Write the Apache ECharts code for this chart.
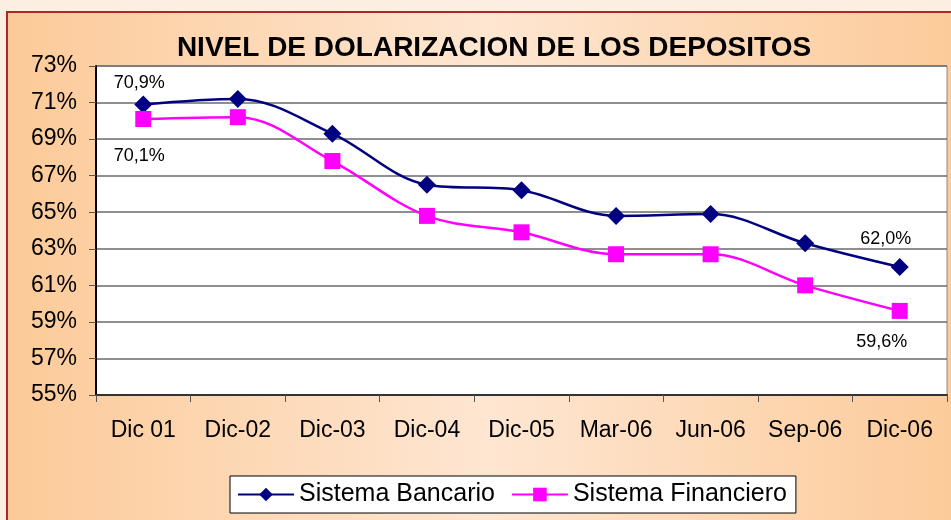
<!doctype html>
<html lang="es">
<head>
    <meta charset="utf-8">
    <title>Nivel de dolarizacion de los depositos</title>
    <script src="https://cdn.jsdelivr.net/npm/echarts@6/dist/echarts.min.js"></script>
    <style>
        html, body { margin: 0; padding: 0; background: #fdeee2; }
        #chart { width: 951px; height: 520px; }
    </style>
</head>
<body>
    <div id="chart"></div>

    <script type="text/javascript">
        // periodos
        var categories = ['Dic 01', 'Dic-02', 'Dic-03', 'Dic-04', 'Dic-05', 'Mar-06', 'Jun-06', 'Sep-06', 'Dic-06'];
        // % de depositos en dolares
        var bancario = [70.9, 71.2, 69.3, 66.5, 66.2, 64.8, 64.9, 63.3, 62.0];
        var financiero = [70.1, 70.2, 67.8, 64.8, 63.9, 62.7, 62.7, 61.0, 59.6];
        var yTicks = [55, 57, 59, 61, 63, 65, 67, 69, 71, 73];

        var font = '"Liberation Sans", Arial, sans-serif';

        function pct(v) {
            return v.toFixed(1).replace('.', ',') + '%';
        }

        // only first and last points get a label
        function withLabels(values, pos, dist, offsets) {
            return values.map(function (v, i) {
                if (i === 0 || i === values.length - 1) {
                    return {
                        value: v,
                        label: {
                            show: true, position: pos, distance: dist,
                            offset: offsets[i === 0 ? 0 : 1],
                            formatter: function (p) { return pct(p.value); },
                            color: '#000', fontFamily: font, fontSize: 18
                        }
                    };
                }
                return v;
            });
        }

        var myChart = echarts.init(document.getElementById('chart'));
        var option = {
            backgroundColor: '#fdeee2',
            animation: false,
            graphic: [{
                type: 'rect',
                z: -100,
                shape: { x: 7, y: 12, width: 960, height: 520 },
                style: {
                    fill: new echarts.graphic.LinearGradient(0, 0, 1, 0, [
                        { offset: 0, color: '#fcca98' },
                        { offset: 0.5, color: '#fee6d2' },
                        { offset: 1, color: '#fcca98' }
                    ]),
                    stroke: '#a52a2a',
                    lineWidth: 2
                }
            }],
            title: {
                text: 'NIVEL DE DOLARIZACION DE LOS DEPOSITOS',
                left: 489,
                textAlign: 'center',
                top: 29,
                textStyle: { fontFamily: font, fontWeight: 'bold', fontSize: 28, color: '#000' }
            },
            legend: {
                bottom: 7,
                left: 230,
                backgroundColor: '#fff',
                borderColor: '#000',
                borderWidth: 1,
                borderRadius: 0,
                padding: [6, 9, 6, 7],
                itemGap: 16,
                itemWidth: 56,
                itemHeight: 17,
                textStyle: { fontFamily: font, fontSize: 25, color: '#000' },
                data: ['Sistema Bancario', 'Sistema Financiero']
            },
            grid: {
                left: 96, right: 4, top: 66, bottom: 125,
                show: true,
                backgroundColor: '#fff',
                borderColor: '#888',
                borderWidth: 1
            },
            xAxis: {
                type: 'category',
                data: categories,
                boundaryGap: true,
                axisLine: { lineStyle: { color: '#333', width: 2 } },
                axisTick: { show: true, interval: 0, length: 7, lineStyle: { color: '#555' } },
                axisLabel: { interval: 0, fontFamily: font, fontSize: 23, color: '#000', margin: 24 }
            },
            yAxis: {
                type: 'value',
                min: yTicks[0],
                max: yTicks[yTicks.length - 1],
                interval: 2,
                axisLine: { show: true, lineStyle: { color: '#000', width: 2 } },
                axisTick: { show: true, length: 7, lineStyle: { color: '#555' } },
                axisLabel: {
                    fontFamily: font, fontSize: 23, color: '#000', margin: 19,
                    formatter: function (v) { return v + '%'; }
                },
                splitLine: { lineStyle: { color: '#6a6a6a', width: 1.5 } }
            },
            series: [
                {
                    name: 'Sistema Bancario',
                    type: 'line',
                    smooth: 0.35,
                    symbol: 'diamond',
                    symbolSize: 18,
                    itemStyle: { color: '#000080' },
                    lineStyle: { color: '#000080', width: 2.5 },
                    data: withLabels(bancario, 'top', 3, [[-4, 0], [-14, -7]])
                },
                {
                    name: 'Sistema Financiero',
                    type: 'line',
                    smooth: 0.35,
                    symbol: 'rect',
                    symbolSize: 16,
                    itemStyle: { color: '#ff00ff' },
                    lineStyle: { color: '#ff00ff', width: 2.5 },
                    data: withLabels(financiero, 'bottom', 12, [[-4, 8], [-18, 2]])
                }
            ]
        };
        myChart.setOption(option);
    </script>
</body>
</html>
